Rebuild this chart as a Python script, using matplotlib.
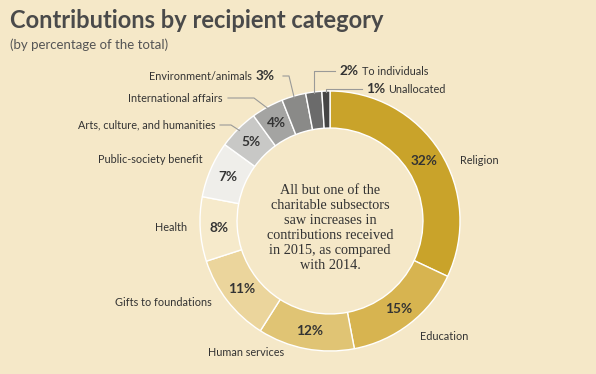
import matplotlib.pyplot as plt
import numpy as np

# data
categories = ["Religion", "Education", "Human services", "Gifts to foundations",
              "Health", "Public-society benefit", "Arts, culture, and humanities",
              "International affairs", "Environment/animals", "To individuals",
              "Unallocated"]
shares = [32, 15, 12, 11, 8, 7, 5, 4, 3, 2, 1]
colors = ["#c9a32a", "#d7b450", "#e0c474", "#ebd59c", "#f6eacb", "#efeeea",
          "#c8c8c6", "#a4a4a2", "#8a8a88", "#6b6b6b", "#454545"]

BG = "#f5e8c8"
W, H = 596, 374
cx, cy, R = 330, H - 221, 130
ring = 0.285

fig = plt.figure(figsize=(W / 100, H / 100), dpi=100, facecolor=BG)
ax = fig.add_axes([0, 0, 1, 1])
ax.axis("off")

sans = "Lato"
serif = "Liberation Serif"


def pct_label(p):
    return "%d%%" % round(p) if p >= 3.5 else ""


wedges, _, autotexts = ax.pie(shares, colors=colors, startangle=90, counterclock=False,
                              center=(cx, cy), radius=R, autopct=pct_label,
                              pctdistance=1 - ring / 2,
                              wedgeprops=dict(width=R * ring, edgecolor="white", linewidth=1),
                              textprops=dict(fontsize=9.8, fontweight="bold", color="#333333",
                                             family=sans))
ax.set_xlim(0, W)
ax.set_ylim(0, H)
ax.set_aspect("auto")

# title
fig.text(10 / W, 1 - 28 / H, "Contributions by recipient category", fontsize=17,
         fontweight="bold", color="#4a4a4a", family=sans, va="baseline")
fig.text(10 / W, 1 - 49 / H, "(by percentage of the total)", fontsize=9.5,
         color="#555555", family=sans, va="baseline")

# centre note
ax.text(cx, H - 228, "All but one of the\ncharitable subsectors\nsaw increases in\n"
        "contributions received\nin 2015, as compared\nwith 2014.",
        ha="center", va="center", fontsize=10.3, family=serif, color="#333333",
        linespacing=1.2)

lab = dict(fontsize=7.8, color="#333333", family=sans, va="center")
# plain outside labels (x, y in pixels from top-left)
plain = {0: (460, 160, "left"), 1: (420, 337, "left"), 2: (208, 353, "left"),
         3: (212, 302, "right"), 4: (187, 227, "right"), 5: (203, 159, "right")}
for i, (x, y, ha) in plain.items():
    ax.text(x, H - y, categories[i], ha=ha, **lab)


def edge_point(i, r=R):
    start = 90 - 3.6 * sum(shares[:i])
    mid = np.radians(start - 1.8 * shares[i])
    return cx + r * np.cos(mid), cy + r * np.sin(mid)


lc = dict(color="#9a9a98", lw=0.8)
pc = dict(fontweight="bold", fontsize=9.8, color="#333333", family=sans, va="center")
# labels with leader lines
ex, ey = edge_point(6, R - 2)
ax.text(216, H - 125, categories[6], ha="right", **lab)
ax.plot([220, 231, ex], [H - 125, H - 125, ey], **lc)

ex, ey = edge_point(7, R - 2)
ax.text(222, H - 98, categories[7], ha="right", **lab)
ax.plot([228, 254, ex], [H - 98, H - 98, ey], **lc)

ex, ey = edge_point(8, R - 2)
ax.text(275, H - 76, "%d%%" % shares[8], ha="right", **pc)
ax.text(252, H - 76, categories[8], ha="right", **lab)
ax.plot([283, 289, ex], [H - 76, H - 76, ey], **lc)

ex, ey = edge_point(9, R - 1)
ax.text(339, H - 71, "%d%%" % shares[9], ha="left", **pc)
ax.text(362, H - 71, categories[9], ha="left", **lab)
ax.plot([335, ex, ex], [H - 71, H - 71, ey], **lc)

ex, ey = edge_point(10, R - 1)
ax.text(366, H - 89, "%d%%" % shares[10], ha="left", **pc)
ax.text(388, H - 89, categories[10], ha="left", **lab)
ax.plot([362, ex, ex], [H - 89, H - 89, ey], **lc)

fig.savefig("out.png", dpi=100, facecolor=BG)
